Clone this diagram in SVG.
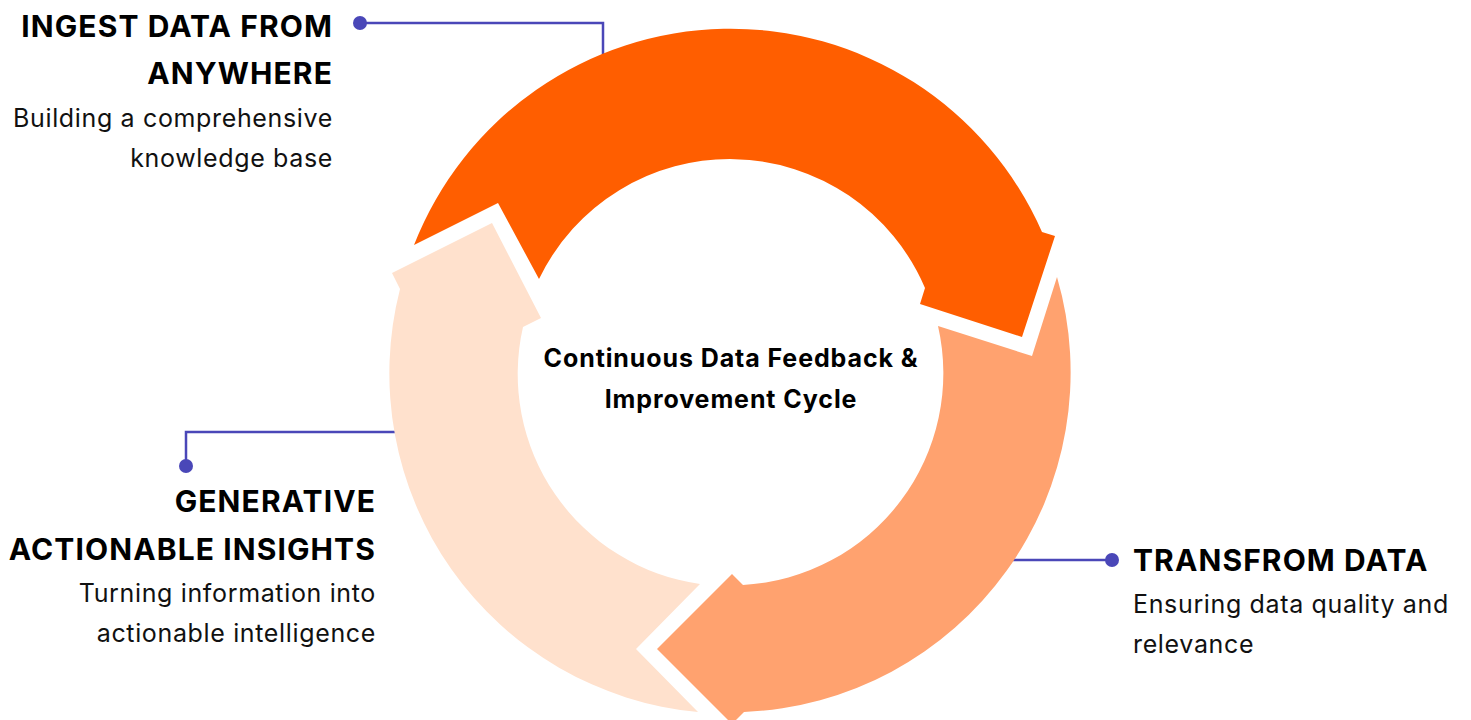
<svg xmlns="http://www.w3.org/2000/svg" width="1471" height="720" viewBox="0 0 1471 720">
<style>
.t{font-family:Inter,"Liberation Sans",sans-serif;font-weight:700;font-size:30px;letter-spacing:1.1px;fill:#000}
.s{font-family:Inter,"Liberation Sans",sans-serif;font-weight:400;font-size:25px;letter-spacing:0.65px;fill:#111}
.c{font-family:Inter,"Liberation Sans",sans-serif;font-weight:700;font-size:25px;letter-spacing:0.9px;fill:#000;text-anchor:middle}
.e{text-anchor:end}
.ln{fill:none;stroke:#4A47B8;stroke-width:2.5}
.dot{fill:#4A47B8}
</style>
<rect width="1471" height="720" fill="#fff"/>
<g id="connectors">
<path class="ln" d="M360,23 H603 V70"/>
<circle class="dot" cx="360" cy="23" r="7"/>
<path class="ln" d="M186,466 V432 H402"/>
<circle class="dot" cx="186" cy="466" r="7"/>
<path class="ln" d="M1005,560 H1112"/>
<circle class="dot" cx="1112" cy="560" r="7"/>
</g>
<g id="ingest">
<path fill="#FF5E00" d="M414,245 A340,340 0 0 1 1042,232 L1055,236 L1022,337 L920,304 L925,288 A212,212 0 0 0 539,279 L498,203 Z"/>
<text class="t e" x="333" y="37">INGEST DATA FROM</text>
<text class="t e" x="333" y="84">ANYWHERE</text>
<text class="s e" x="333" y="127">Building a comprehensive</text>
<text class="s e" x="333" y="167">knowledge base</text>
</g>
<g id="transform">
<path fill="#FFA26F" d="M1057,277 A340,340 0 0 1 744,712 L732,724 L657,649 L732,574 L743,585 A212,212 0 0 0 938,326 L1032,356 Z"/>
<text class="t" x="1133" y="571">TRANSFROM DATA</text>
<text class="s" x="1133" y="613">Ensuring data quality and</text>
<text class="s" x="1133" y="653">relevance</text>
</g>
<g id="insights">
<path fill="#FFE1CD" d="M698,712 A340,340 0 0 1 400,289 L392,273 L492,223 L541,318 L523,327 A212,212 0 0 0 700,584 L636,649 Z"/>
<text class="t e" x="376" y="512">GENERATIVE</text>
<text class="t e" x="376" y="560">ACTIONABLE INSIGHTS</text>
<text class="s e" x="376" y="602">Turning information into</text>
<text class="s e" x="376" y="642">actionable intelligence</text>
</g>
<g id="center">
<text class="c" x="731" y="367">Continuous Data Feedback &amp;</text>
<text class="c" x="731" y="408">Improvement Cycle</text>
</g>
</svg>
